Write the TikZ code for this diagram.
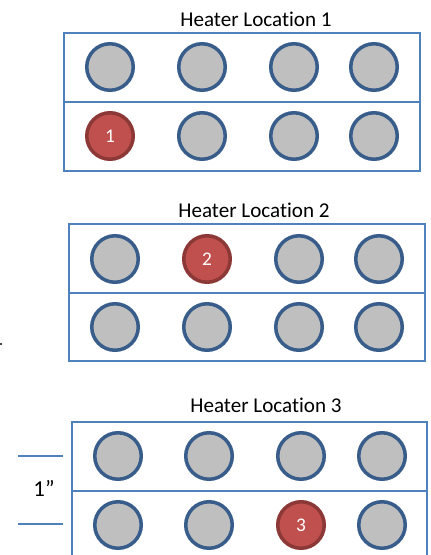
\documentclass[tikz,border=0pt]{standalone}
\usepackage{fontspec}
\setmainfont{Carlito}[Ligatures=NoCommon]

\definecolor{boxblue}{HTML}{4F81BD}
\definecolor{ringblue}{HTML}{385D8A}
\definecolor{padgray}{HTML}{BFBFBF}
\definecolor{padred}{HTML}{C0504D}
\definecolor{ringred}{HTML}{8C3836}

\tikzset{
  heater/.style={circle, draw=ringblue, fill=padgray, line width=2pt,
                 minimum size=0.93cm, inner sep=0pt},
  hot/.style={heater, draw=ringred, fill=padred, text=white,
              font=\fontsize{11}{13}\selectfont},
  tray/.style={draw=boxblue, line width=0.8pt},
  title/.style={font=\fontsize{12}{14}\selectfont}
}

\begin{document}
\begin{tikzpicture}[x=0.02cm, y=-0.02cm]
\useasboundingbox (0,0) rectangle (431,555);
\clip (0,0) rectangle (431,555);

% location 1
\node[title] (t1) at (256,19) {Heater Location 1};
\draw[tray] (64,33) rectangle (420,171);
\draw[tray] (64,102) -- (420,102);
\foreach \x/\n in {110/a,202/b,294/c,374/d}
  \node[heater] (p1top\n) at (\x,67) {};
\node[hot] (p1bota) at (110,136) {1};
\foreach \x/\n in {202/b,294/c,374/d}
  \node[heater] (p1bot\n) at (\x,136) {};

% location 2
\node[title] (t2) at (254,210) {Heater Location 2};
\draw[tray] (69,224) rectangle (425,361);
\draw[tray] (69,293) -- (425,293);
\node[heater] (p2topa) at (115,259) {};
\node[hot] (p2topb) at (207,259) {2};
\foreach \x/\n in {299/c,379/d}
  \node[heater] (p2top\n) at (\x,259) {};
\foreach \x/\n in {115/a,207/b,299/c,379/d}
  \node[heater] (p2bot\n) at (\x,327) {};
\fill (1,344) circle (1.2);

% location 3
\node[title] (t3) at (266,405) {Heater Location 3};
\draw[tray] (72,570) -- (72,422) -- (427,422) -- (427,570);
\draw[tray] (72,491) -- (427,491);
\foreach \x/\n in {118/a,209/b,301/c,382/d}
  \node[heater] (p3top\n) at (\x,456) {};
\foreach \x/\n in {118/a,209/b}
  \node[heater] (p3bot\n) at (\x,525) {};
\node[hot] (p3botc) at (301,525) {3};
\node[heater] (p3botd) at (382,525) {};

% 1 inch mark
\coordinate (m1) at (18,456);
\coordinate (m2) at (18,524);
\draw[tray] (m1) -- ++(45,0);
\draw[tray] (m2) -- ++(45,0);
\node[font=\fontsize{13}{15}\selectfont] (inch) at (44,488) {1”};
\end{tikzpicture}
\end{document}
